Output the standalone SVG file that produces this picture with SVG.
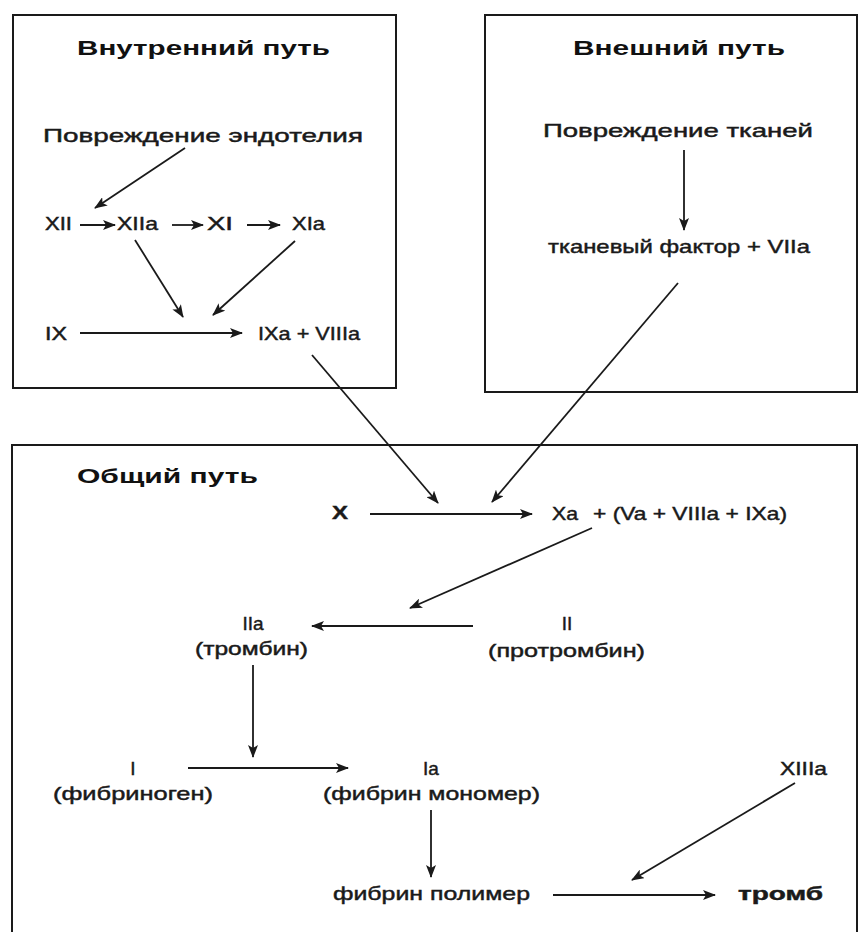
<svg xmlns="http://www.w3.org/2000/svg" width="859" height="932" viewBox="0 0 859 932">
<style>
.box{fill:none;stroke:#1a1a1a;stroke-width:2}
.t{font-family:"Liberation Sans",Arial,sans-serif;font-size:19px;fill:#1a1a1a;stroke:#1a1a1a;stroke-width:0.45}
.h{font-family:"Liberation Sans",Arial,sans-serif;font-size:21px;font-weight:bold;fill:#111}
.b{font-weight:bold}
.c{text-anchor:middle}
.ln{stroke:#1a1a1a;stroke-width:1.8;fill:none;marker-end:url(#ah)}
</style>
<defs>
<marker id="ah" markerUnits="userSpaceOnUse" markerWidth="13" markerHeight="10" refX="12" refY="5" orient="auto">
<path d="M0,0 L13,5 L0,10 L3,5 Z" fill="#1a1a1a"/>
</marker>
</defs>
<rect width="859" height="932" fill="#fff"/>

<g id="intrinsic">
<rect class="box" x="13" y="15" width="383" height="373"/>
<text class="h" x="77" y="55" textLength="253" lengthAdjust="spacingAndGlyphs">Внутренний путь</text>
</g>
<g id="extrinsic">
<rect class="box" x="485" y="15" width="372" height="377"/>
<text class="h" x="573" y="55" textLength="212" lengthAdjust="spacingAndGlyphs">Внешний путь</text>
</g>
<g id="common">
<rect class="box" x="12" y="445" width="845" height="495"/>
<text class="h" x="77" y="483" textLength="181" lengthAdjust="spacingAndGlyphs">Общий путь</text>
</g>

<g id="n-endothelium"><text class="t" x="43" y="142" textLength="320" lengthAdjust="spacingAndGlyphs">Повреждение эндотелия</text></g>
<g id="n-XII"><text class="t" x="45" y="230" textLength="27" lengthAdjust="spacingAndGlyphs">XII</text></g>
<g id="n-XIIa"><text class="t" x="117" y="230" textLength="41" lengthAdjust="spacingAndGlyphs">XIIa</text></g>
<g id="n-XI"><text class="t" x="207" y="230" textLength="26" lengthAdjust="spacingAndGlyphs">XI</text></g>
<g id="n-XIa"><text class="t" x="292" y="230" textLength="33" lengthAdjust="spacingAndGlyphs">XIa</text></g>
<g id="n-IX"><text class="t" x="45" y="340" textLength="22" lengthAdjust="spacingAndGlyphs">IX</text></g>
<g id="n-IXa"><text class="t" x="258" y="340" textLength="102" lengthAdjust="spacingAndGlyphs">IXa + VIIIa</text></g>

<g id="n-tissue"><text class="t" x="543" y="137" textLength="270" lengthAdjust="spacingAndGlyphs">Повреждение тканей</text></g>
<g id="n-TF"><text class="t" x="548" y="253" textLength="262" lengthAdjust="spacingAndGlyphs">тканевый фактор + VIIa</text></g>

<g id="n-X"><text class="t b" x="332" y="519" textLength="16" lengthAdjust="spacingAndGlyphs">X</text></g>
<g id="n-Xa"><text class="t" x="552" y="520" textLength="26" lengthAdjust="spacingAndGlyphs">Xa</text><text class="t" x="593" y="520" textLength="194" lengthAdjust="spacingAndGlyphs">+ (Va + VIIIa + IXa)</text></g>
<g id="n-IIa"><text class="t c" x="253" y="630">IIa</text><text class="t" x="195" y="655" textLength="113" lengthAdjust="spacingAndGlyphs">(тромбин)</text></g>
<g id="n-II"><text class="t c" x="567" y="630">II</text><text class="t" x="488" y="657" textLength="157" lengthAdjust="spacingAndGlyphs">(протромбин)</text></g>
<g id="n-I"><text class="t c" x="133" y="775">I</text><text class="t" x="53" y="800" textLength="160" lengthAdjust="spacingAndGlyphs">(фибриноген)</text></g>
<g id="n-Ia"><text class="t c" x="431" y="775">Ia</text><text class="t" x="323" y="800" textLength="217" lengthAdjust="spacingAndGlyphs">(фибрин мономер)</text></g>
<g id="n-XIIIa"><text class="t" x="780" y="775" textLength="47" lengthAdjust="spacingAndGlyphs">XIIIa</text></g>
<g id="n-polymer"><text class="t" x="333" y="900" textLength="197" lengthAdjust="spacingAndGlyphs">фибрин полимер</text></g>
<g id="n-thrombus"><text class="t b" x="738" y="900" textLength="85" lengthAdjust="spacingAndGlyphs">тромб</text></g>

<g id="connectors">
<line class="ln" x1="185" y1="148" x2="95" y2="208"/>
<line class="ln" x1="80" y1="225" x2="115" y2="225"/>
<line class="ln" x1="172" y1="225" x2="203" y2="225"/>
<line class="ln" x1="247" y1="225" x2="280" y2="225"/>
<line class="ln" x1="135" y1="240" x2="183" y2="317"/>
<line class="ln" x1="295" y1="241" x2="213" y2="315"/>
<line class="ln" x1="80" y1="333" x2="242" y2="333"/>
<line class="ln" x1="312" y1="355" x2="438" y2="503"/>
<line class="ln" x1="684" y1="150" x2="684" y2="230"/>
<line class="ln" x1="678" y1="283" x2="492" y2="502"/>
<line class="ln" x1="370" y1="514" x2="532" y2="514"/>
<line class="ln" x1="592" y1="528" x2="410" y2="608"/>
<line class="ln" x1="473" y1="626" x2="312" y2="626"/>
<line class="ln" x1="253" y1="665" x2="253" y2="757"/>
<line class="ln" x1="188" y1="768" x2="348" y2="768"/>
<line class="ln" x1="431" y1="810" x2="431" y2="877"/>
<line class="ln" x1="795" y1="783" x2="632" y2="880"/>
<line class="ln" x1="553" y1="895" x2="715" y2="895"/>
</g>
</svg>
